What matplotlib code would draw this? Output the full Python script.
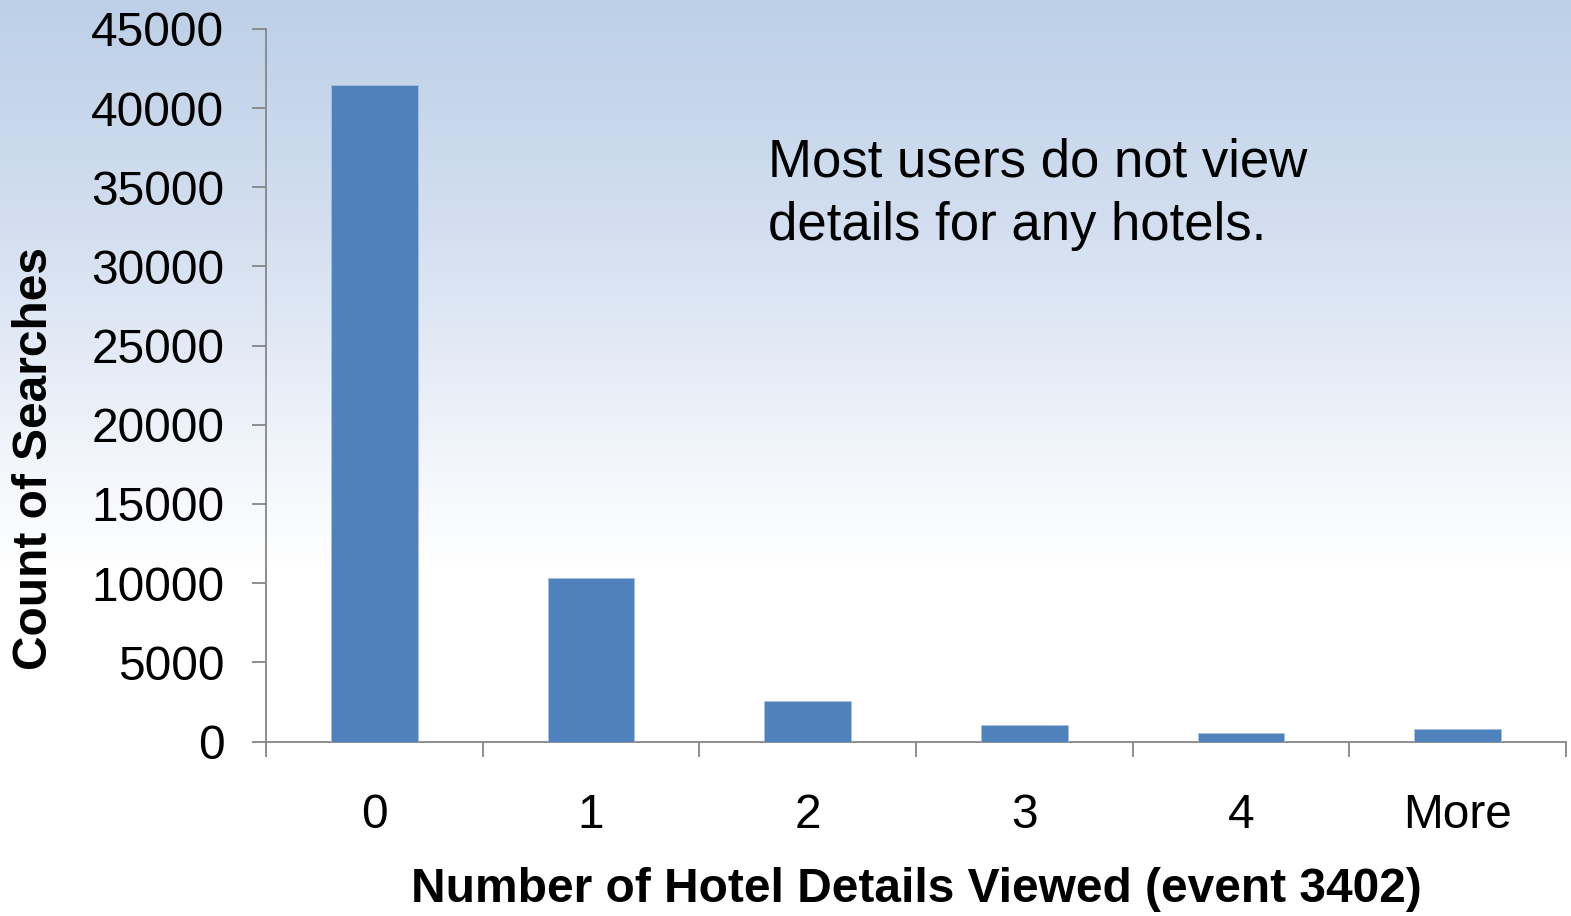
import numpy as np
import matplotlib
matplotlib.use("Agg")
import matplotlib.pyplot as plt
from matplotlib.colors import LinearSegmentedColormap

categories = ["0", "1", "2", "3", "4", "More"]
counts = [41450, 10320, 2560, 1020, 560, 760]
yticks = [0, 5000, 10000, 15000, 20000, 25000, 30000, 35000, 40000, 45000]

plt.rcParams['font.family'] = ['Liberation Sans', 'DejaVu Sans']

W, H = 1571, 916
fig = plt.figure(figsize=(W / 100, H / 100), dpi=100)

# background gradient: light blue at the top fading to white
bg = fig.add_axes([0, 0, 1, 1], zorder=-10)
cmap = LinearSegmentedColormap.from_list(
    "bg", [(0.0, "#bdd0e7"), (0.25, "#d3dff0"), (0.5, "#f2f5fb"), (0.62, "#ffffff"), (1.0, "#ffffff")])
grad = np.linspace(0, 1, 256).reshape(-1, 1)
bg.imshow(grad, aspect="auto", cmap=cmap, extent=[0, 1, 0, 1], origin="upper")
bg.axis("off")

ax = fig.add_axes([266 / W, 1 - 741.5 / H, 1300 / W, 712.5 / H])
ax.patch.set_alpha(0)

x = np.arange(len(categories))
ax.bar(x, counts, width=0.4, color="#4f81bd", edgecolor="#a9c0df", linewidth=0.6, zorder=3)

ax.set_xlim(-0.5, len(categories) - 0.5)
ax.set_ylim(0, 45000)
ax.set_yticks(yticks)
ax.set_yticklabels([str(v) for v in yticks])
ax.set_xticks(x)
ax.set_xticklabels(categories)
ax.set_xticks(np.arange(len(categories) + 1) - 0.5, minor=True)

gray = "#868686"
for s in ["top", "right"]:
    ax.spines[s].set_visible(False)
for s in ["left", "bottom"]:
    ax.spines[s].set_color(gray)
    ax.spines[s].set_linewidth(1.3)

ax.tick_params(axis="y", which="major", length=10, width=1.3, color=gray,
               labelsize=34.5, pad=20)
ax.tick_params(axis="x", which="major", length=0, labelsize=34.5, pad=37)
ax.tick_params(axis="x", which="minor", length=11, width=1.3, color=gray)

fig.text(916 / W, 1 - 890 / H, "Number of Hotel Details Viewed (event 3402)",
         fontsize=34.5, fontweight="bold", ha="center", va="center")
fig.text(35 / W, 1 - 459 / H, "Count of Searches", fontsize=34.5,
         fontweight="bold", ha="center", va="center", rotation=90)

ax.text(0.386, 0.848, "Most users do not view\ndetails for any hotels.",
        transform=ax.transAxes, fontsize=38, va="top", ha="left", linespacing=1.36)

fig.savefig("out.png", dpi=100)
